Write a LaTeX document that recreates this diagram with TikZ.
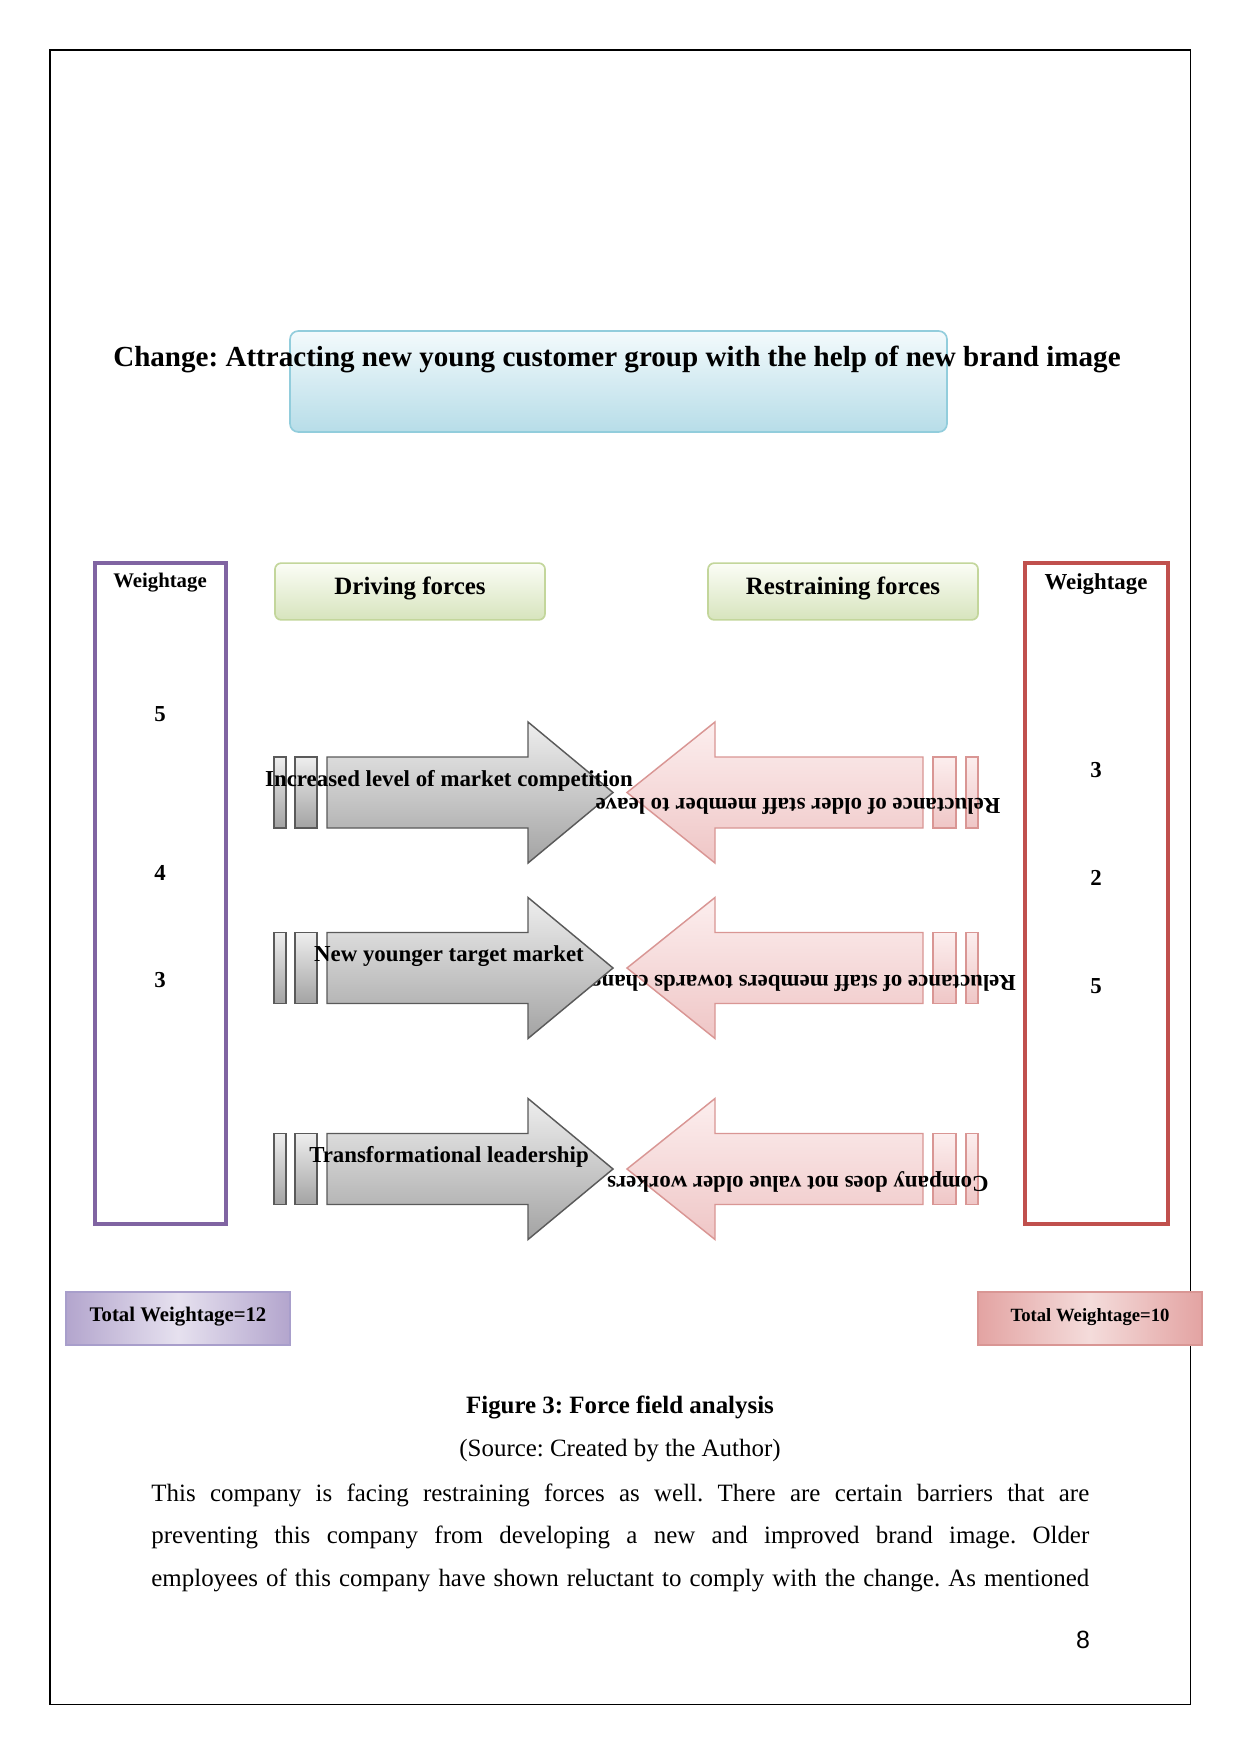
\documentclass[tikz,border=0pt]{standalone}
\usepackage{fontspec}
\setmainfont{Liberation Serif}
\newfontfamily\pagenumfont{Liberation Sans}
\frenchspacing
\definecolor{tealine}{HTML}{92CDDC}
\definecolor{teatop}{HTML}{F3FAFC}
\definecolor{teabot}{HTML}{B7DDE8}
\definecolor{grnline}{HTML}{C3D69B}
\definecolor{grntop}{HTML}{FBFDF6}
\definecolor{grnbot}{HTML}{D7E4BD}
\definecolor{wpurple}{HTML}{8064A2}
\definecolor{wred}{HTML}{C0504D}
\definecolor{gline}{HTML}{5A5A5A}
\definecolor{gtop}{HTML}{EEEEEE}
\definecolor{gbot}{HTML}{A3A3A3}
\definecolor{pline}{HTML}{D99694}
\definecolor{ptop}{HTML}{FCEEEE}
\definecolor{pbot}{HTML}{EFC6C6}
\definecolor{totpedge}{HTML}{B3A5CD}
\definecolor{totpmid}{HTML}{E6E1EF}
\definecolor{totpline}{HTML}{A89ECB}
\definecolor{totredge}{HTML}{E3A3A2}
\definecolor{totrmid}{HTML}{F4DCDB}

\begin{document}
\begin{tikzpicture}[x=0.016922cm, y=-0.016922cm,
  changebox/.style={draw=tealine, line width=0.8pt, rounded corners=4pt, top color=teatop, bottom color=teabot},
  forcehead/.style={draw=grnline, line width=0.8pt, rounded corners=3pt, top color=grntop, bottom color=grnbot,
                    minimum width=4.57cm, minimum height=0.96cm, inner sep=0pt, text height=8.5pt, text depth=6pt,
                    font=\fontsize{12}{14}\selectfont\bfseries},
  weightbox/.style={line width=2pt},
  wnum/.style={font=\fontsize{11}{13}\selectfont\bfseries, inner sep=0pt},
  drivearrow/.style={draw=gline, line width=0.7pt, top color=gtop, bottom color=gbot},
  restarrow/.style={draw=pline, line width=0.7pt, top color=ptop, bottom color=pbot},
  forcetext/.style={font=\fontsize{11}{13}\selectfont\bfseries, inner sep=0pt},
  total/.style={minimum width=3.79cm, minimum height=0.897cm, inner sep=0pt, line width=0.8pt,
                text height=7.5pt, text depth=5pt}]
\useasboundingbox (0,0) rectangle (1241,1754);
\fill[white] (0,0) rectangle (1241,1754);
\draw[line width=0.5pt] (50,50) rectangle (1190,1704);
% ---------------- change
\draw[changebox] (290,331) rectangle (947,432);
\node[font=\fontsize{14}{16}\selectfont\bfseries, inner sep=0pt] (change) at (617,359)
  {Change: Attracting new young customer group with the help of new brand image};
% ---------------- heads and weightage columns
\node[forcehead] (drive) at (410,591.5) {Driving forces};
\node[forcehead] (restrain) at (843,591.5) {Restraining forces};
\draw[weightbox, draw=wpurple] (95,563) rectangle (226,1224);
\draw[weightbox, draw=wred] (1025,563) rectangle (1168,1224);
\node[font=\fontsize{10}{12}\selectfont\bfseries] (wleft) at (160,583) {Weightage};
\node[font=\fontsize{11}{13}\selectfont\bfseries] (wright) at (1096,584) {Weightage};
\foreach \n/\v in {5/714, 4/873, 3/980} {\node[wnum] (wl\n) at (160,\v) {\n};}
\foreach \n/\v in {3/770, 2/878, 5/986} {\node[wnum] (wr\n) at (1096,\v) {\n};}
% ---------------- restraining arrows (pink, pointing left)
\foreach \r/\yy in {1/792.5, 2/968, 3/1169} {
  \draw[restarrow] (923,\yy-35.5) -- (715,\yy-35.5) -- (715,\yy-70.5) -- (627,\yy)
    -- (715,\yy+70.5) -- (715,\yy+35.5) -- (923,\yy+35.5) -- cycle;
  \draw[restarrow] (933,\yy-35.5) rectangle (956,\yy+35.5);
  \draw[restarrow] (966,\yy-35.5) rectangle (978,\yy+35.5);
}
% the middle label sits under the grey arrow
\node[forcetext, rotate=180] (rest2) at (798,981) {Reluctance of staff members towards change};
% ---------------- driving arrows (grey, pointing right)
\foreach \r/\yy in {1/792.5, 2/968, 3/1169} {
  \draw[drivearrow] (327,\yy-35.5) -- (528,\yy-35.5) -- (528,\yy-70.5) -- (613,\yy)
    -- (528,\yy+70.5) -- (528,\yy+35.5) -- (327,\yy+35.5) -- cycle;
  \draw[drivearrow] (274,\yy-35.5) rectangle (286,\yy+35.5);
  \draw[drivearrow] (295,\yy-35.5) rectangle (317,\yy+35.5);
}
\node[forcetext, rotate=180] (rest1) at (798,806) {Reluctance of older staff member to leave};
\node[forcetext, rotate=180] (rest3) at (798,1182) {Company does not value older workers};
\foreach \r/\yy/\txt in {1/792.5/Increased level of market competition,
                         2/968/New younger target market,
                         3/1169/Transformational leadership}
  {\node[forcetext] (drv\r) at (449,\yy-12) {\txt};}
% ---------------- totals
\node[total, draw=totpline, left color=totpedge, right color=totpedge, middle color=totpmid,
      font=\fontsize{10}{12}\selectfont\bfseries] (totleft) at (178,1318.5) {Total Weightage=12};
\node[total, draw=pline, left color=totredge, right color=totredge, middle color=totrmid,
      font=\fontsize{9}{11}\selectfont\bfseries] (totright) at (1090,1318.5) {Total Weightage=10};
% ---------------- caption and page text
\node[font=\fontsize{12}{14}\selectfont\bfseries] (cap) at (620,1407) {Figure 3: Force field analysis};
\node[font=\fontsize{12}{14}\selectfont] (src) at (620,1451) {(Source: Created by the Author)};
\node[anchor=base west, text width=15.87cm, align=justify, inner sep=0pt,
      font=\fontsize{12}{20.6}\selectfont] (body) at (151,1501)
  {\parfillskip=0pt This company is facing restraining forces as well. There are certain barriers that are\linebreak
   preventing this company from developing a new and improved brand image. Older\linebreak
   employees of this company have shown reluctant to comply with the change. As mentioned\par};
\node[font=\pagenumfont\fontsize{12}{14}\selectfont] (pnum) at (1083,1640) {8};
\end{tikzpicture}
\end{document}
